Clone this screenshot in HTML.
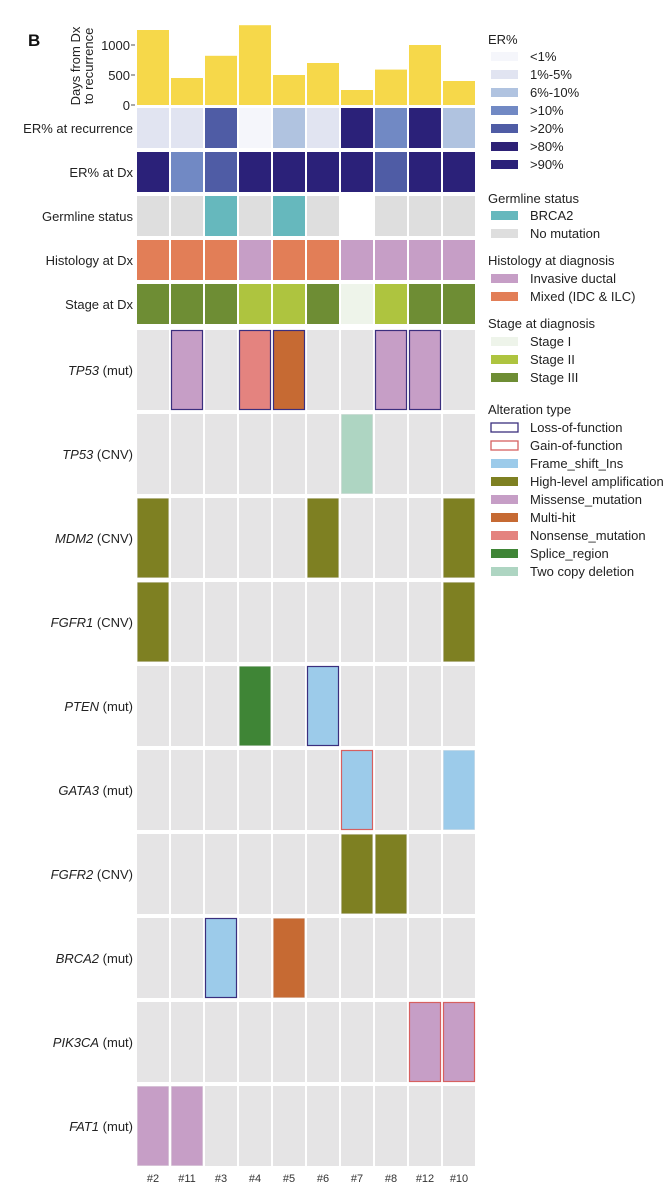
<!DOCTYPE html>
<html><head><meta charset="utf-8"><style>
body{margin:0;background:#fff;}
svg{display:block;font-family:"Liberation Sans","DejaVu Sans",sans-serif;}
</style></head><body>
<svg id="c" width="672" height="1200" xmlns="http://www.w3.org/2000/svg"></svg>
<script>
const patients=["#2","#11","#3","#4","#5","#6","#7","#8","#12","#10"];
const days=[1250,450,820,1330,500,700,250,590,1000,400];
const dayTicks=[0,500,1000];
const erRec=["1%-5%","1%-5%",">20%","<1%","6%-10%","1%-5%",">90%",">10%",">90%","6%-10%"];
const erDx=[">90%",">10%",">20%",">90%",">90%",">90%",">90%",">20%",">90%",">90%"];
const germ=["No mutation","No mutation","BRCA2","No mutation","BRCA2","No mutation","","No mutation","No mutation","No mutation"];
const hist=["Mixed","Mixed","Mixed","Invasive","Mixed","Mixed","Invasive","Invasive","Invasive","Invasive"];
const stage=["III","III","III","II","II","III","I","II","III","III"];
const genes=[["TP53"," (mut)"],["TP53"," (CNV)"],["MDM2"," (CNV)"],["FGFR1"," (CNV)"],["PTEN"," (mut)"],["GATA3"," (mut)"],["FGFR2"," (CNV)"],["BRCA2"," (mut)"],["PIK3CA"," (mut)"],["FAT1"," (mut)"]];
const alts=[[0,1,"miss","lof"],[0,3,"non","lof"],[0,4,"multi","lof"],[0,7,"miss","lof"],[0,8,"miss","lof"],
[1,6,"del",""],[2,0,"amp",""],[2,5,"amp",""],[2,9,"amp",""],[3,0,"amp",""],[3,9,"amp",""],
[4,3,"splice",""],[4,5,"fs","lof"],[5,6,"fs","gof"],[5,9,"fs",""],[6,6,"amp",""],[6,7,"amp",""],
[7,2,"fs","lof"],[7,4,"multi",""],[8,8,"miss","gof"],[8,9,"miss","gof"],[9,0,"miss",""],[9,1,"miss",""]];
const erCol={"<1%":"#f5f6fb","1%-5%":"#e1e4f1","6%-10%":"#b0c3e0",">10%":"#7189c4",">20%":"#4f5ca5",">80%":"#2d2176",">90%":"#2b2179"};
const germCol={"BRCA2":"#66b8bd","No mutation":"#dedede","":"#ffffff"};
const histCol={"Invasive":"#c69ec6","Mixed":"#e27e57"};
const stCol={"I":"#eef4ea","II":"#aec43f","III":"#6e8d34"};
const altCol={miss:"#c69ec6",non:"#e4837f",multi:"#c66a33",del:"#aed5c2",amp:"#7e8022",splice:"#3f8536",fs:"#9ccbea"};
const bCol={lof:"#3b2f7e",gof:"#d66060"};
const S=document.getElementById('c'),NS="http://www.w3.org/2000/svg";
function mk(t,a,p){const e=document.createElementNS(NS,t);for(const k in a)e.setAttribute(k,a[k]);(p||S).appendChild(e);return e;}
const X0=137,P=34,W=32;
const colX=i=>X0+i*P;
const yDay=v=>105-v*0.06;
let t=mk('text',{x:0,y:0,'font-size':13,fill:'#222','text-anchor':'middle',transform:'translate(86,66) rotate(-90)'});

mk('tspan',{x:0,dy:-6},t).textContent='Days from Dx';mk('tspan',{x:0,dy:13},t).textContent='to recurrence';
t=mk('text',{x:28,y:46,'font-size':17,'font-weight':'bold',fill:'#111'});t.textContent='B';

dayTicks.forEach(v=>{let e=mk('text',{x:130,y:yDay(v)+5,'font-size':13,fill:'#222','text-anchor':'end'});e.textContent=v;

mk('line',{x1:131,x2:135,y1:yDay(v),y2:yDay(v),stroke:'#555'});});
days.forEach((v,i)=>{let r=mk('rect',{x:colX(i),y:yDay(v),width:W,height:105-yDay(v),fill:'#f6d84a'});
});
function lab(txt,y,it,rest){let e=mk('text',{x:133,y:y+5,'font-size':13,fill:'#222','text-anchor':'end'});
if(it){mk('tspan',{'font-style':'italic'},e).textContent=it;mk('tspan',{},e).textContent=rest;}else e.textContent=txt;
}
const annRows=[["ER% at recurrence",erRec,erCol],["ER% at Dx",erDx,erCol],["Germline status",germ,germCol],["Histology at Dx",hist,histCol],["Stage at Dx",stage,stCol]];
annRows.forEach((r,j)=>{const y=108+j*44;lab(r[0],y+20);
r[1].forEach((v,i)=>{let c=mk('rect',{x:colX(i),y:y,width:W,height:40,fill:r[2][v]});
});});
genes.forEach((g,j)=>{const y=330+j*84;lab('',y+40,g[0],g[1]);
patients.forEach((p,i)=>{let c=mk('rect',{x:colX(i),y:y,width:W,height:80,fill:'#e5e4e5'});
});});
alts.forEach(a=>{const y=330+a[0]*84;const at={x:colX(a[1])+0.5,y:y+0.5,width:W-1,height:79,fill:altCol[a[2]]};
if(a[3]){at.stroke=bCol[a[3]];at['stroke-width']=1.2;}
let c=mk('rect',at);});
patients.forEach((p,i)=>{let e=mk('text',{x:colX(i)+W/2,y:1182,'font-size':11,fill:'#333','text-anchor':'middle'});e.textContent=p;
});
function lt(txt,y){let e=mk('text',{x:488,y:y+5,'font-size':13,fill:'#222'});e.textContent=txt;
}
function le(txt,y,fill,stroke){let a={x:491,y:y-4,width:27,height:9,fill:fill};if(stroke){a.stroke=stroke;a['stroke-width']=1.3;}
let r=mk('rect',a);
let e=mk('text',{x:530,y:y+5,'font-size':13,fill:'#222'});e.textContent=txt;
}
lt('ER%',39);["<1%","1%-5%","6%-10%",">10%",">20%",">80%",">90%"].forEach((k,i)=>le(k,56+i*18,erCol[k]));
lt('Germline status',198);le('BRCA2',215,germCol.BRCA2);le('No mutation',233,germCol["No mutation"]);
lt('Histology at diagnosis',260);le('Invasive ductal',278,histCol.Invasive);le('Mixed (IDC & ILC)',296,histCol.Mixed);
lt('Stage at diagnosis',323);le('Stage I',341,stCol.I);le('Stage II',359,stCol.II);le('Stage III',377,stCol.III);
lt('Alteration type',409);
le('Loss-of-function',427,'#fff',bCol.lof);le('Gain-of-function',445,'#fff',bCol.gof);
[["Frame_shift_Ins","fs"],["High-level amplification","amp"],["Missense_mutation","miss"],["Multi-hit","multi"],["Nonsense_mutation","non"],["Splice_region","splice"],["Two copy deletion","del"]]
.forEach((k,i)=>le(k[0],463+i*18,altCol[k[1]]));
</script>
</body></html>
